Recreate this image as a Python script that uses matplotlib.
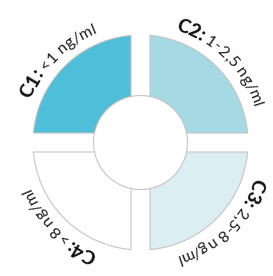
import numpy as np
import matplotlib
matplotlib.use("Agg")
import matplotlib.pyplot as plt
from matplotlib.patches import Polygon, Circle

names = ["C1:", "C2:", "C3:", "C4:"]
ranges = [" <1 ng/ml", " 1-2,5 ng/ml", " 2,5-8 ng/ml", " >8 ng/ml"]
shares = [1, 1, 1, 1]
colors = ["#4fbfd9", "#a5d9e3", "#dbeff2", "#ffffff"]

fig = plt.figure(figsize=(2.73, 2.76), dpi=100)
ax = fig.add_axes([0, 0, 1, 1])
ax.set_xlim(0, 273)
ax.set_ylim(0, 276)
ax.set_aspect('equal')
ax.axis('off')

cx, cy = 140.5, 133.5
R, r_hole, gap = 107.5, 47, 9.5
r_txt = 118
edge = "#c9c3c3"

bold = dict(family="Lato", weight="black", fontsize=13.5, color="#111111")
light = dict(family="Lato", weight="normal", fontsize=11.5, color="#1a1a1a")

renderer = fig.canvas.get_renderer()


def char_width(ch, style):
    t1 = ax.text(0, 0, "a" + ch + "a", **style)
    t2 = ax.text(0, 0, "aa", **style)
    w = t1.get_window_extent(renderer).width - t2.get_window_extent(renderer).width
    t1.remove()
    t2.remove()
    return w


def curved_text(parts, mid):
    chars = []
    for s, style in parts:
        for ch in s:
            chars.append((ch, style, char_width(ch, style)))
    total = sum(c[2] for c in chars)
    th0 = np.radians(mid) + total / 2 / r_txt
    off = 0
    for ch, style, w in chars:
        th = th0 - (off + w / 2) / r_txt
        off += w
        ax.text(cx + r_txt * np.cos(th), cy + r_txt * np.sin(th), ch,
                rotation=np.degrees(th) - 90, rotation_mode="anchor",
                ha="center", va="baseline", **style)


a0 = np.arcsin(gap / R)
t = np.linspace(a0, np.pi / 2 - a0, 80)
start = 180
span = 360 / sum(shares)
for i in range(len(names)):
    mid = start - (sum(shares[:i]) + shares[i] / 2) * span
    sx = np.sign(np.cos(np.radians(mid)))
    sy = np.sign(np.sin(np.radians(mid)))
    pts = np.column_stack([R * np.cos(t), R * np.sin(t)])
    pts = np.vstack([pts, [gap, gap]])
    pts = pts * [sx, sy] + [cx, cy]
    ax.add_patch(Polygon(pts, closed=True, facecolor=colors[i],
                         edgecolor=edge, lw=0.8))
    curved_text([(names[i], bold), (ranges[i], light)], mid)

ax.add_patch(Circle((cx, cy), r_hole, facecolor="white", edgecolor=edge, lw=0.8, zorder=3))

fig.savefig("out.png", dpi=100)
